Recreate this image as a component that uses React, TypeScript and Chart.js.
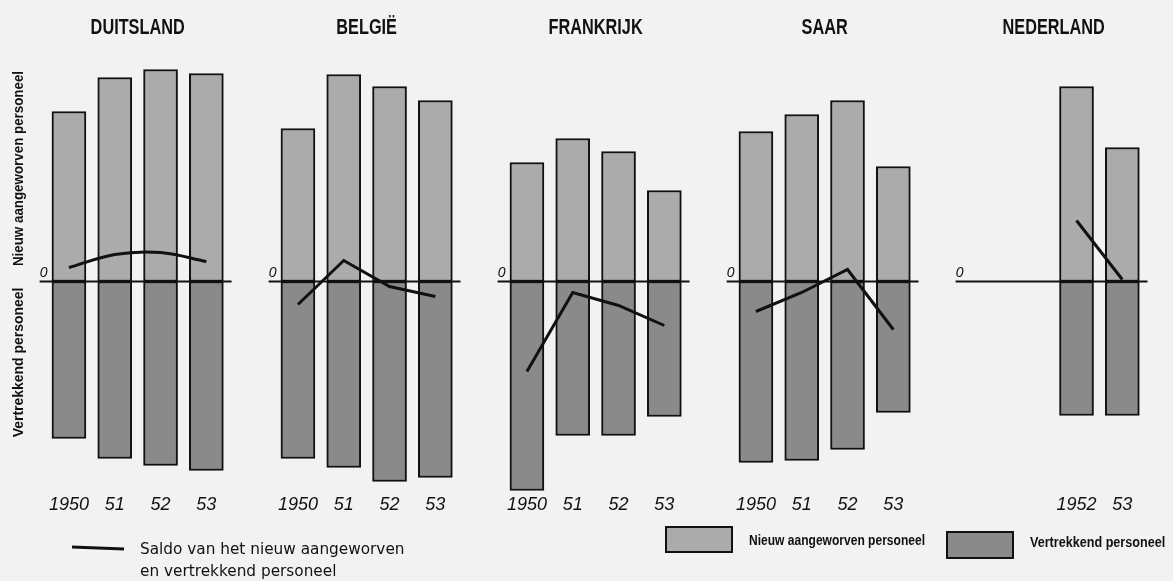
import React, { useEffect, useRef } from 'react';
import { Chart, registerables } from 'chart.js';

Chart.register(...registerables);

// ---------- data (arbitrary units, zero = balance line) ----------
const countries = ['DUITSLAND', 'BELGIË', 'FRANKRIJK', 'SAAR', 'NEDERLAND'];
const yearLabels = ['1950', '51', '52', '53'];
const nederlandYearLabels = ['1952', '53'];

const duitslandNieuw = [17.0, 20.4, 21.2, 20.8];
const duitslandVertrek = [-15.7, -17.7, -18.4, -18.9];
const duitslandSaldo = [1.4, 2.7, 2.9, 2.0];

const belgieNieuw = [15.3, 20.7, 19.5, 18.1];
const belgieVertrek = [-17.7, -18.6, -20.0, -19.6];
const belgieSaldo = [-2.3, 2.1, -0.5, -1.5];

const frankrijkNieuw = [11.9, 14.3, 13.0, 9.1];
const frankrijkVertrek = [-20.9, -15.4, -15.4, -13.5];
const frankrijkSaldo = [-9.0, -1.1, -2.4, -4.4];

const saarNieuw = [15.0, 16.7, 18.1, 11.5];
const saarVertrek = [-18.1, -17.9, -16.8, -13.1];
const saarSaldo = [-3.0, -1.1, 1.2, -4.8];

const nederlandNieuw = [19.5, 13.4];
const nederlandVertrek = [-13.4, -13.4];
const nederlandSaldo = [6.1, 0.2];

const legendSaldo = ['Saldo van het nieuw aangeworven', 'en vertrekkend personeel'];
const labelNieuw = 'Nieuw aangeworven personeel';
const labelVertrek = 'Vertrekkend personeel';

// ---------- layout helpers ----------
const SLOTS_PER_PANEL = 5;
const panelYears = [yearLabels, yearLabels, yearLabels, yearLabels, nederlandYearLabels];
const panelFirstSlot = [0, 0, 0, 0, 2];
const panelNieuw = [duitslandNieuw, belgieNieuw, frankrijkNieuw, saarNieuw, nederlandNieuw];
const panelVertrek = [duitslandVertrek, belgieVertrek, frankrijkVertrek, saarVertrek, nederlandVertrek];
const panelSaldo = [duitslandSaldo, belgieSaldo, frankrijkSaldo, saarSaldo, nederlandSaldo];

const slotOf = (p: number, i: number) => p * SLOTS_PER_PANEL + panelFirstSlot[p] + i;

const SANS = '"Liberation Sans", Arial, sans-serif';
const GEO = '"DejaVu Sans", "Noto Sans", sans-serif';

const LIGHT = '#ababab';
const DARK = '#8a8a8a';

// draw text horizontally condensed by factor sx
function condensedText(ctx: CanvasRenderingContext2D, text: string, x: number, y: number, sx: number) {
  ctx.save();
  ctx.translate(x, y);
  ctx.scale(sx, 1);
  ctx.fillText(text, 0, 0);
  ctx.restore();
}

export default function App() {
  const ref = useRef<HTMLCanvasElement | null>(null);

  useEffect(() => {
    if (!ref.current) return;

    const nieuwPts: { x: number; y: number }[] = [];
    const vertrekPts: { x: number; y: number }[] = [];
    const tickMap = new Map<number, string>();
    panelYears.forEach((ys, p) => {
      ys.forEach((lab, i) => {
        const x = slotOf(p, i);
        nieuwPts.push({ x, y: panelNieuw[p][i] });
        vertrekPts.push({ x, y: panelVertrek[p][i] });
        tickMap.set(x, lab);
      });
    });

    const saldoSets = panelSaldo.map((vals, p) => ({
      type: 'line' as const,
      label: 'saldo-' + p,
      data: vals.map((v, i) => ({ x: slotOf(p, i), y: v })),
      borderColor: '#111',
      borderWidth: 3,
      pointRadius: 0,
      tension: p === 0 ? 0.35 : 0,
      order: 0,
    }));

    const zeroSets = countries.map((_, p) => ({
      type: 'line' as const,
      label: 'zero-' + p,
      data: [
        { x: p * SLOTS_PER_PANEL - 0.64, y: 0 },
        { x: p * SLOTS_PER_PANEL + 3.55, y: 0 },
      ],
      borderColor: '#111',
      borderWidth: 2,
      pointRadius: 0,
      order: 1,
    }));

    const decor = {
      id: 'decor',
      beforeDraw(chart: any) {
        const { ctx, width, height } = chart;
        ctx.save();
        ctx.fillStyle = '#f2f2f2';
        ctx.fillRect(0, 0, width, height);
        ctx.restore();
      },
      afterDraw(chart: any) {
        const { ctx } = chart;
        const xs = chart.scales.x;
        const ys = chart.scales.y;
        const y0 = ys.getPixelForValue(0);
        ctx.save();
        ctx.fillStyle = '#111';
        // titles
        ctx.font = `bold 22px ${SANS}`;
        ctx.textAlign = 'center';
        ctx.textBaseline = 'middle';
        countries.forEach((c, p) => {
          condensedText(ctx, c, xs.getPixelForValue(p * SLOTS_PER_PANEL + 1.5), 28, 0.74);
        });
        // zero labels
        ctx.font = `italic 14px ${SANS}`;
        countries.forEach((_, p) => {
          ctx.fillText('0', xs.getPixelForValue(p * SLOTS_PER_PANEL - 0.55), y0 - 8);
        });
        // rotated axis labels
        ctx.font = `bold 15px ${SANS}`;
        ctx.save();
        ctx.translate(19, ys.getPixelForValue(11.3));
        ctx.rotate(-Math.PI / 2);
        condensedText(ctx, labelNieuw, 0, 0, 0.89);
        ctx.restore();
        ctx.save();
        ctx.translate(19, ys.getPixelForValue(-8.1));
        ctx.rotate(-Math.PI / 2);
        condensedText(ctx, labelVertrek, 0, 0, 0.93);
        ctx.restore();

        // saldo legend
        ctx.strokeStyle = '#111';
        ctx.lineWidth = 3;
        ctx.beginPath();
        ctx.moveTo(72, 547);
        ctx.lineTo(124, 549);
        ctx.stroke();
        ctx.font = `15.3px ${GEO}`;
        ctx.textAlign = 'left';
        ctx.fillText(legendSaldo[0], 140, 550);
        ctx.fillText(legendSaldo[1], 140, 572);

        // fill legends
        ctx.lineWidth = 2;
        ctx.fillStyle = LIGHT;
        ctx.fillRect(666, 527, 66, 25);
        ctx.strokeRect(666, 527, 66, 25);
        ctx.fillStyle = DARK;
        ctx.fillRect(947, 532, 66, 26);
        ctx.strokeRect(947, 532, 66, 26);
        ctx.fillStyle = '#111';
        ctx.font = `bold 14px ${SANS}`;
        condensedText(ctx, labelNieuw, 749, 541, 0.86);
        condensedText(ctx, labelVertrek, 1030, 543, 0.9);
        ctx.restore();
      },
    };

    const chart = new Chart(ref.current, {
      type: 'bar',
      data: {
        datasets: [
          ...saldoSets,
          ...zeroSets,
          {
            type: 'bar' as const,
            label: labelNieuw,
            data: nieuwPts,
            backgroundColor: LIGHT,
            borderColor: '#111',
            borderWidth: 2,
            borderSkipped: false,
            barThickness: 34,
            grouped: false,
            order: 2,
          },
          {
            type: 'bar' as const,
            label: labelVertrek,
            data: vertrekPts,
            backgroundColor: DARK,
            borderColor: '#111',
            borderWidth: 2,
            borderSkipped: false,
            barThickness: 34,
            grouped: false,
            order: 2,
          },
        ] as any,
      },
      options: {
        responsive: false,
        animation: false,
        layout: { padding: { top: 61, left: 34.6, right: 23.2, bottom: 0 } },
        plugins: {
          legend: { display: false },
          tooltip: { enabled: false },
        },
        scales: {
          x: {
            type: 'linear',
            offset: false,
            min: -0.75,
            max: 23.6,
            grid: { display: false, drawTicks: false, tickLength: 0, offset: false },
            border: { display: false },
            afterBuildTicks: (scale: any) => {
              scale.ticks = Array.from(tickMap.keys()).map((v) => ({ value: v }));
            },
            afterFit: (scale: any) => {
              scale.height = 89.5;
              scale.paddingLeft = 0;
              scale.paddingRight = 0;
            },
            ticks: {
              autoSkip: false,
              maxRotation: 0,
              minRotation: 0,
              padding: 3,
              color: '#111',
              font: { family: SANS, size: 18, style: 'italic' },
              callback: (v: any) => tickMap.get(Number(v)) ?? '',
            },
          },
          y: {
            display: false,
            min: -21,
            max: 22.05,
          },
        },
      },
      plugins: [decor],
    });

    return () => chart.destroy();
  }, []);

  return (
    <div style={{ position: 'absolute', left: 0, top: 0, width: 1173, height: 581 }}>
      <canvas ref={ref} width={1173} height={581} style={{ display: 'block' }} />
    </div>
  );
}
